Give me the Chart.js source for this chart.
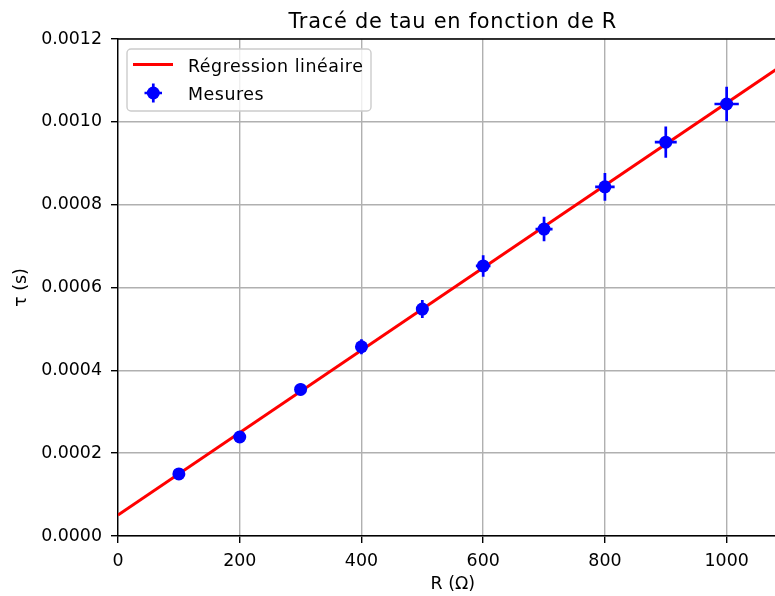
<!DOCTYPE html>
<html>
<head>
<meta charset="utf-8">
<script src="https://cdn.jsdelivr.net/npm/chart.js@4/dist/chart.umd.min.js"></script>
<style>
  html, body { margin: 0; padding: 0; background: #fff; overflow: hidden; }
  #wrap { width: 794px; height: 596px; position: relative; }
</style>
</head>
<body>
<div id="wrap"><canvas id="c"></canvas></div>
<script>
// ---- data ----
const rValues   = [100, 200, 300, 400, 500, 600, 700, 800, 900, 1000];          // R (Ω)
const tauValues = [0.000150, 0.000239, 0.000354, 0.000457, 0.000548,
                   0.000652, 0.000741, 0.000843, 0.000951, 0.001043];          // τ (s)
const rErrors   = [2, 4, 6, 8, 10, 12, 14, 16, 18, 20];
const tauErrors = [0.0000060, 0.0000096, 0.0000142, 0.0000183, 0.0000219,
                   0.0000261, 0.0000296, 0.0000337, 0.0000380, 0.0000417];
const regR      = [0, 1100];               // regression line end points
const regTau    = [0.0000504, 0.001145];
const xTickStep = 200;
const yTickStep = 0.0002;
const titleText = 'Tracé de tau en fonction de R';
const regLabel  = 'Régression linéaire';
const measLabel = 'Mesures';

const FONT = 'DejaVu Sans';
const FS = 17.4;
Chart.defaults.font.family = FONT;
Chart.defaults.font.size = FS;
Chart.defaults.color = '#000';

const errorBarPlugin = {
  id: 'errorBars',
  beforeDatasetDraw(chart, args) {
    const ds = chart.data.datasets[args.index];
    if (!ds.xErr) return;
    const xs = chart.scales.x, ys = chart.scales.y, ctx = chart.ctx;
    ctx.save();
    ctx.strokeStyle = ds.backgroundColor;
    ctx.lineWidth = 2.7;
    ds.data.forEach((p, i) => {
      const px = xs.getPixelForValue(p.x), py = ys.getPixelForValue(p.y);
      ctx.beginPath();
      ctx.moveTo(xs.getPixelForValue(p.x - ds.xErr[i]), py);
      ctx.lineTo(xs.getPixelForValue(p.x + ds.xErr[i]), py);
      ctx.moveTo(px, ys.getPixelForValue(p.y - ds.yErr[i]));
      ctx.lineTo(px, ys.getPixelForValue(p.y + ds.yErr[i]));
      ctx.stroke();
    });
    ctx.restore();
  }
};

const framePlugin = {
  id: 'frame',
  afterDraw(chart) {
    const {ctx, chartArea: a} = chart;
    ctx.save();
    // top spine
    ctx.strokeStyle = '#000';
    ctx.lineWidth = 1.4;
    ctx.beginPath();
    ctx.moveTo(a.left - 0.7, a.top);
    ctx.lineTo(a.right, a.top);
    ctx.stroke();
    // title
    ctx.fillStyle = '#000';
    ctx.font = (FS * 1.2) + 'px "' + FONT + '"';
    ctx.letterSpacing = '0.75px';
    ctx.textAlign = 'center';
    ctx.textBaseline = 'alphabetic';
    ctx.fillText(titleText, (a.left + a.right) / 2, a.top - 11);
    // legend
    ctx.letterSpacing = '0px';
    const lx = 127, ly = 49, lw = 244, lh = 62, r = 4;
    ctx.fillStyle = 'rgba(255,255,255,0.8)';
    ctx.strokeStyle = '#cccccc';
    ctx.lineWidth = 1.4;
    ctx.beginPath();
    ctx.roundRect(lx, ly, lw, lh, r);
    ctx.fill();
    ctx.stroke();
    const d0 = chart.data.datasets[1], d1 = chart.data.datasets[0];
    ctx.strokeStyle = d0.borderColor;
    ctx.lineWidth = 3;
    ctx.beginPath();
    ctx.moveTo(133, 64.5); ctx.lineTo(173, 64.5);
    ctx.stroke();
    ctx.strokeStyle = d1.backgroundColor;
    ctx.lineWidth = 2.7;
    ctx.beginPath();
    ctx.moveTo(144.5, 93); ctx.lineTo(162, 93);
    ctx.moveTo(153.3, 83.5); ctx.lineTo(153.3, 102.5);
    ctx.stroke();
    ctx.fillStyle = d1.backgroundColor;
    ctx.beginPath();
    ctx.arc(153.3, 93, 6.5, 0, Math.PI * 2);
    ctx.fill();
    ctx.fillStyle = '#000';
    ctx.font = FS + 'px "' + FONT + '"';
    ctx.letterSpacing = '0.55px';
    ctx.textAlign = 'left';
    ctx.fillText(d0.label, 188, 71.5);
    ctx.fillText(d1.label, 188, 100);
    ctx.restore();
  }
};

new Chart(document.getElementById('c'), {
  data: {
    datasets: [
      {
        type: 'scatter',
        label: measLabel,
        data: rValues.map((x, i) => ({x: x, y: tauValues[i]})),
        xErr: rErrors,
        yErr: tauErrors,
        backgroundColor: '#0000ff',
        borderColor: '#0000ff',
        pointRadius: 6.5,
        pointBorderWidth: 0,
        pointHoverRadius: 6.5,
        order: 0
      },
      {
        type: 'line',
        label: regLabel,
        data: regR.map((x, i) => ({x: x, y: regTau[i]})),
        borderColor: '#ff0000',
        borderWidth: 3,
        pointRadius: 0,
        fill: false,
        order: 1
      }
    ]
  },
  options: {
    responsive: true,
    maintainAspectRatio: false,
    animation: false,
    events: [],
    layout: { padding: { top: 39, left: 0, right: 0, bottom: 0 } },
    plugins: { legend: { display: false }, title: { display: false }, tooltip: { enabled: false } },
    scales: {
      x: {
        type: 'linear',
        min: 0, max: 1100,
        afterFit(s) { s.height = 60; },
        ticks: { stepSize: xTickStep, includeBounds: false, padding: 8, callback: v => String(v), maxRotation: 0 },
        grid: { color: '#b0b0b0', lineWidth: 1.4, tickColor: '#000', tickLength: 7, tickWidth: 1.4 },
        border: { color: '#000', width: 1.4 },
        title: { display: true, text: 'R (Ω)', padding: { top: 0, bottom: 1 }, font: { size: FS } }
      },
      y: {
        type: 'linear',
        min: 0, max: 0.0012,
        afterFit(s) { s.width = 118; },
        ticks: { stepSize: yTickStep, padding: 9, callback: v => v.toFixed(4) },
        grid: { color: '#b0b0b0', lineWidth: 1.4, tickColor: '#000', tickLength: 7, tickWidth: 1.4 },
        border: { color: '#000', width: 1.4 },
        title: { display: true, text: 'τ (s)', padding: { top: 11, bottom: 0 }, font: { size: FS } }
      }
    }
  },
  plugins: [errorBarPlugin, framePlugin]
});
</script>
</body>
</html>
